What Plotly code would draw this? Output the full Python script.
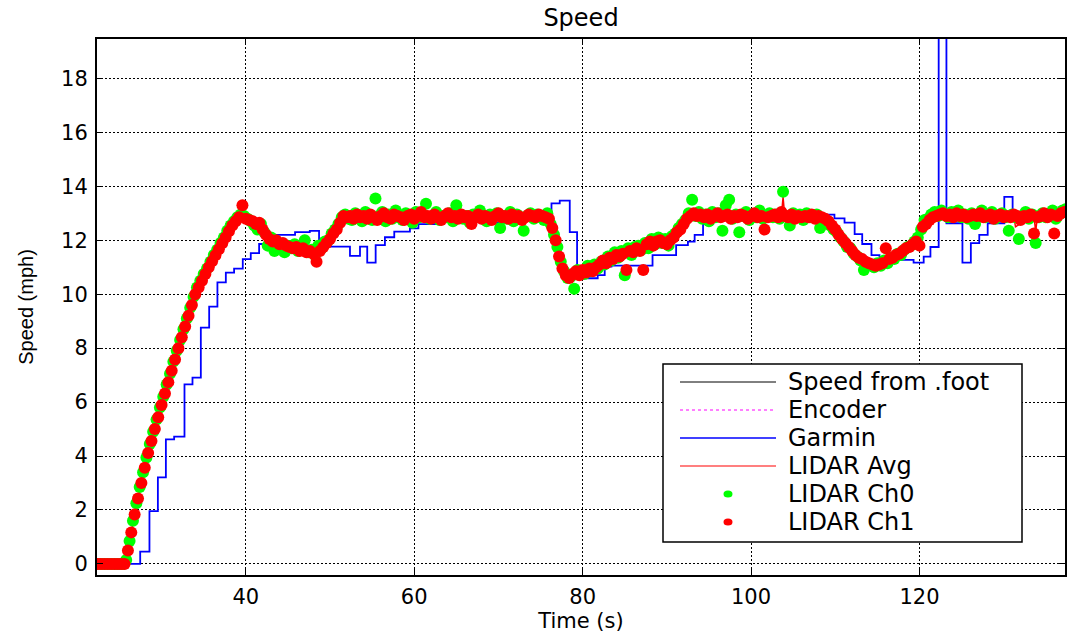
import numpy as np
import plotly.graph_objects as go

# ---------------- data ----------------
# Garmin (step line): times at which the reading changes and the new value
garmin_t = [22.0, 27.46, 28.56, 29.56, 30.51, 31.49, 32.72, 33.67, 34.66, 35.65,
            36.63, 37.63, 38.61, 39.64, 40.59, 41.58, 42.6, 45.85, 47.6, 48.7,
            52.37, 53.56, 54.42, 55.42, 56.52, 57.63, 59.49, 60.5, 62.5, 66.0,
            69.5, 72.0, 74.5, 76.3, 77.28, 78.47, 79.34, 81.79, 82.62, 83.42,
            88.3, 91.1, 92.5, 93.3, 94.3, 95.5, 99.0, 103.0, 107.0, 109.9,
            111.1, 112.3, 113.2, 114.3, 115.25, 117.2, 119.3, 120.5, 121.3, 122.28,
            123.2, 125.1, 126.1, 127.1, 128.1, 130.07, 131.06, 137.5]
garmin_v = [0.0, 0.46, 1.96, 3.21, 4.62, 4.72, 6.66, 6.91, 8.76, 9.54,
            10.44, 10.80, 10.95, 11.30, 11.52, 11.86, 12.2, 12.3, 12.35, 11.76,
            11.42, 11.76, 11.17, 11.82, 12.11, 12.32, 12.44, 12.6, 12.7, 12.75,
            12.64, 12.75, 12.9, 13.37, 13.47, 12.3, 10.59, 10.71, 11.02, 11.06,
            11.45, 11.82, 11.95, 12.2, 12.6, 12.9, 12.95, 12.9, 12.95, 12.81,
            12.65, 12.23, 11.86, 11.45, 11.3, 11.27, 11.17, 11.39, 11.75, 26.0,
            12.63, 11.17, 11.89, 12.2, 12.63, 13.61, 12.87, 12.87]

# LIDAR Ch1 (red dots), sampled every 0.4 s starting at 22.4 s
ch1_start, ch1_step = 22.4, 0.4
ch1_v = [
    0, 0, 0, 0, 0, 0, 0, 0, 0, 0.5,
    1.17, 1.83, 2.43, 3.0, 3.57, 4.11, 4.56, 5.0, 5.44, 5.89,
    6.32, 6.74, 7.16, 7.58, 8.0, 8.4, 8.8, 9.2, 9.6, 10.0,
    10.25, 10.5, 10.75, 11.0, 11.22, 11.44, 11.67, 11.89, 12.1, 12.33,
    12.55, 12.7, 12.85, 13.3, 12.8, 12.75, 12.7, 12.6, 12.65, 12.4,
    12.2, 12.05, 11.95, 12.0, 11.85, 11.9, 11.8, 11.75, 11.7, 11.75,
    11.6, 11.7, 11.55, 11.6, 11.5, 11.2, 11.6, 11.75, 11.9, 12.05,
    12.25, 12.4, 12.65, 12.9, 12.85, 12.9, 12.8, 12.95, 12.85, 12.9,
    12.8, 12.95, 12.85, 12.75, 12.9, 13.0, 12.85, 12.8, 12.95, 12.9,
    12.85, 12.75, 12.9, 12.95, 12.8, 12.9, 13.05, 12.85, 12.9, 12.8,
    12.95, 12.85, 12.75, 12.9, 13.0, 12.85, 12.9, 12.8, 12.95, 12.85,
    12.9, 12.6, 12.85, 12.95, 12.8, 12.9, 12.85, 12.75, 12.9, 13.0,
    12.85, 12.9, 12.8, 12.95, 12.85, 12.9, 12.75, 12.85, 12.95, 12.9,
    12.85, 12.95, 12.9, 12.85, 12.8, 12.45, 12.0, 11.4, 10.95, 10.7,
    10.6, 10.75, 10.85, 10.7, 10.9, 10.8, 10.95, 10.85, 11.0, 11.1,
    11.25, 11.15, 11.35, 11.3, 11.45, 11.4, 11.5, 10.9, 11.6, 11.55,
    11.7, 11.6, 10.9, 11.85, 11.95, 11.8, 11.95, 12.0, 11.9, 11.85,
    12.0, 12.1, 12.3, 12.4, 12.6, 12.8, 12.9, 13.0, 12.9, 12.95,
    12.85, 12.95, 12.8, 12.9, 13.0, 12.85, 12.9, 12.95, 12.8, 12.9,
    12.85, 12.95, 12.9, 12.8, 12.9, 13.0, 12.85, 12.9, 12.4, 12.85,
    12.9, 12.95, 12.85, 13.05, 12.9, 12.85, 12.95, 12.8, 12.9, 12.85,
    12.9, 12.85, 12.95, 12.8, 12.9, 12.85, 12.8, 12.7, 12.55, 12.4,
    12.2, 12.05, 11.9, 11.75, 11.6, 11.45, 11.35, 11.3, 11.2, 11.15,
    11.1, 11.05, 11.1, 11.15, 11.7, 11.3, 11.35, 11.45, 11.5, 11.6,
    11.7, 11.75, 11.85, 11.95, 11.8, 12.5, 12.6, 12.75, 12.85, 12.9,
    12.95, 13.0, 12.9, 12.95, 12.85, 13.0, 12.9, 12.95, 12.85, 12.9,
    12.95, 12.9, 13.0, 12.85, 12.9, 12.95, 12.8, 12.9, 12.95, 12.85,
    12.9, 12.85, 12.95, 12.9, 12.75, 12.9, 12.85, 12.95, 12.25, 12.85,
    12.9, 13.0, 12.85, 12.95, 12.25, 12.9, 13.0, 13.05,
]

# LIDAR Ch0 (green dots), sampled every 0.4 s starting at 22.6 s
ch0_start, ch0_step = 22.6, 0.4
ch0_v = [
    0, 0, 0, 0, 0, 0, 0, 0, 0.15, 0.85,
    1.6, 2.25, 2.85, 3.4, 3.95, 4.45, 4.9, 5.35, 5.8, 6.2,
    6.65, 7.05, 7.5, 7.9, 8.3, 8.7, 9.1, 9.5, 9.9, 10.25,
    10.5, 10.75, 10.95, 11.2, 11.45, 11.65, 11.9, 12.1, 12.35, 12.55,
    12.7, 12.85, 12.95, 12.9, 12.8, 12.7, 12.55, 12.4, 12.6, 12.3,
    11.8, 12.1, 11.6, 11.9, 11.85, 11.55, 11.8, 11.7, 11.85, 11.6,
    11.75, 12.0, 11.55, 11.65, 11.45, 11.8, 11.7, 11.95, 12.0, 12.25,
    12.4, 12.6, 12.85, 12.95, 12.8, 12.75, 13.0, 12.9, 12.7, 13.05,
    12.85, 12.75, 13.55, 12.9, 13.05, 12.7, 12.95, 12.8, 13.1, 12.85,
    12.75, 13.0, 12.9, 12.65, 13.05, 12.85, 12.95, 13.35, 12.8, 12.9,
    13.05, 12.75, 12.9, 12.85, 13.0, 12.7, 13.3, 12.95, 12.8, 12.9,
    12.65, 12.95, 12.85, 13.1, 12.8, 12.7, 12.95, 12.85, 13.0, 12.45,
    12.9, 12.8, 13.05, 12.7, 12.95, 12.85, 12.35, 12.9, 13.0, 12.8,
    12.95, 12.85, 12.75, 13.0, 12.6, 12.2, 11.75, 11.2, 10.85, 10.6,
    10.65, 10.2, 10.9, 10.8, 10.75, 11.05, 10.85, 11.1, 10.95, 11.2,
    11.1, 11.4, 11.25, 11.55, 11.35, 11.6, 10.7, 11.7, 11.45, 11.75,
    11.8, 11.65, 11.9, 11.7, 12.05, 11.85, 12.1, 11.9, 12.05, 11.8,
    12.15, 12.25, 12.45, 12.6, 12.75, 13.0, 13.5, 12.9, 13.05, 12.8,
    12.95, 12.7, 13.05, 12.85, 13.0, 12.35, 13.3, 13.5, 12.8, 12.95,
    12.3, 12.9, 13.05, 12.75, 12.95, 12.85, 13.1, 12.8, 12.9, 13.0,
    12.85, 12.95, 12.8, 13.8, 12.9, 12.55, 13.0, 12.85, 12.95, 12.75,
    13.0, 12.85, 12.9, 12.95, 12.45, 12.8, 12.7, 12.55, 12.4, 12.3,
    12.1, 11.95, 11.75, 11.7, 11.5, 11.4, 11.25, 10.9, 11.15, 11.1,
    11.0, 11.15, 11.05, 11.25, 11.15, 11.35, 11.3, 11.5, 11.45, 11.65,
    11.75, 11.8, 11.95, 12.1, 12.4, 12.75, 12.8, 12.95, 13.05, 12.9,
    13.1, 12.95, 12.85, 13.05, 12.9, 13.1, 12.85, 12.95, 12.8, 13.0,
    12.6, 12.95, 13.1, 12.85, 12.95, 13.05, 12.8, 12.9, 13.0, 12.85,
    12.35, 12.95, 12.85, 12.05, 12.9, 13.05, 12.8, 12.95, 11.9, 12.85,
    13.0, 12.85, 12.95, 13.1, 12.8, 12.95, 13.1, 13.15,
]

# LIDAR Avg (red line)
avg_t = [22.4, 25.7, 26.9, 28.3, 30.1, 32.0, 34.0, 35.6, 37.4, 38.5,
         39.3, 40.5, 41.5, 42.5, 43.5, 45.0, 46.5, 48.0, 48.8, 49.6,
         50.8, 51.6, 53.0, 56.0, 60.0, 64.0, 68.0, 72.0, 76.0, 76.5,
         76.9, 77.3, 77.7, 78.1, 78.7, 80.0, 82.0, 84.0, 86.0, 88.0,
         90.0, 91.0, 92.0, 92.8, 94.0, 98.0, 102.0, 103.6, 103.8, 104.0,
         106.0, 108.5, 109.7, 110.9, 112.1, 113.7, 114.9, 116.0, 117.6, 119.2,
         120.4, 121.6, 122.8, 126.0, 130.0, 131.2, 131.4, 133.6, 133.8, 134.0,
         137.2]
avg_v = [0, 0, 2, 4, 6, 8, 10, 11, 12, 12.6,
         12.85, 12.75, 12.6, 12.25, 12.0, 11.8, 11.65, 11.55, 11.6, 11.9,
         12.35, 12.85, 12.88, 12.86, 12.87, 12.88, 12.86, 12.87, 12.85, 12.35,
         11.9, 11.4, 10.85, 10.7, 10.65, 10.85, 11.05, 11.35, 11.55, 11.8,
         11.9, 12.2, 12.6, 12.9, 12.92, 12.9, 12.88, 12.9, 13.6, 12.9,
         12.9, 12.88, 12.5, 12.0, 11.52, 11.2, 11.08, 11.2, 11.45, 11.9,
         12.5, 12.87, 12.97, 12.93, 12.9, 12.92, 12.5, 12.9, 12.3, 12.9,
         13.0]

# Speed from .foot and Encoder (only the idle start is on screen, under the dots)
foot_t = [22.4, 25.6]
foot_v = [0.0, 0.0]
enc_t = [22.4, 25.6]
enc_v = [0.0, 0.0]

legend_names = ["Speed from .foot", "Encoder", "Garmin", "LIDAR Avg", "LIDAR Ch0", "LIDAR Ch1"]

ch1_t = np.round(ch1_start + ch1_step * np.arange(len(ch1_v)), 2)
ch0_t = np.round(ch0_start + ch0_step * np.arange(len(ch0_v)), 2)

# ---------------- figure ----------------
FONT = "DejaVu Sans"
L, T, W, H = 97, 39, 968, 536   # plot area in pixels

fig = go.Figure()
fig.add_trace(go.Scatter(x=foot_t, y=foot_v, mode="lines", name=legend_names[0],
                         line=dict(color="black", width=1), showlegend=False))
fig.add_trace(go.Scatter(x=enc_t, y=enc_v, mode="lines", name=legend_names[1],
                         line=dict(color="magenta", width=1, dash="dot"), showlegend=False))
fig.add_trace(go.Scatter(x=garmin_t, y=garmin_v, mode="lines", name=legend_names[2],
                         line=dict(color="#0000FF", width=1.8, shape="hv"), showlegend=False))
fig.add_trace(go.Scatter(x=avg_t, y=avg_v, mode="lines", name=legend_names[3],
                         line=dict(color="#FF0000", width=1.5), showlegend=False))
fig.add_trace(go.Scatter(x=ch0_t, y=ch0_v, mode="markers", name=legend_names[4],
                         marker=dict(color="#00FF00", size=12, line=dict(width=0)), showlegend=False))
fig.add_trace(go.Scatter(x=ch1_t, y=ch1_v, mode="markers", name=legend_names[5],
                         marker=dict(color="#FF0000", size=12, line=dict(width=0)), showlegend=False))

axis_common = dict(
    showgrid=True, gridcolor="black", gridwidth=1, griddash="2px,2px",
    ticks="inside", ticklen=6, tickwidth=1, tickcolor="black",
    showline=True, linecolor="black", linewidth=2, mirror="ticks",
    zeroline=False, automargin=False,
    tickfont=dict(family=FONT, size=21, color="black"),
)
fig.update_xaxes(range=[22.33, 137.28], tick0=0, dtick=20,
                 title=dict(text="Time (s)", font=dict(family=FONT, size=21, color="black"), standoff=2),
                 ticklabelstandoff=2, **axis_common)
fig.update_yaxes(range=[-0.41, 19.46], tick0=0, dtick=2,
                 title=dict(text="Speed (mph)", font=dict(family="Liberation Sans", size=20, color="black"), standoff=22),
                 ticklabelstandoff=3, **axis_common)


def px(x):
    return (x - L) / W


def py(y):
    return (T + H - y) / H


# custom MATLAB-style legend
shapes = [dict(type="rect", xref="paper", yref="paper", x0=px(663), x1=px(1022), y0=py(542), y1=py(364),
               line=dict(color="black", width=1.5), fillcolor="white", layer="above")]
row_y = [382, 410, 438, 466, 494, 522]
line_styles = [dict(color="black", width=1), dict(color="magenta", width=1, dash="dot"),
               dict(color="#0000FF", width=1.5), dict(color="#FF0000", width=1.2)]
for yy, st in zip(row_y[:4], line_styles):
    shapes.append(dict(type="line", xref="paper", yref="paper", x0=px(680), x1=px(776),
                       y0=py(yy), y1=py(yy), line=st, layer="above"))
for yy, col in zip(row_y[4:], ["#00FF00", "#FF0000"]):
    shapes.append(dict(type="circle", xref="paper", yref="paper", x0=px(723.5), x1=px(732.5),
                       y0=py(yy + 3.5), y1=py(yy - 3.5), line=dict(width=0), fillcolor=col, layer="above"))
annotations = []
for yy, name in zip(row_y, legend_names):
    annotations.append(dict(text=name, xref="paper", yref="paper", x=px(786), y=py(yy),
                            xanchor="left", yanchor="middle", showarrow=False,
                            font=dict(family=FONT, size=24, color="black")))

fig.update_layout(
    width=1067, height=635,
    margin=dict(l=L, r=1067 - L - W, t=T, b=635 - T - H),
    paper_bgcolor="white", plot_bgcolor="white",
    title=dict(text="Speed", x=0.5, xref="paper", xanchor="center",
               y=1 - 18 / 635, yref="container", yanchor="middle",
               font=dict(family=FONT, size=24, color="black")),
    shapes=shapes, annotations=annotations, showlegend=False,
)

fig.write_html("out.html", config={"displayModeBar": False},
               post_script="document.body.style.margin='0';document.body.style.overflow='hidden';")
